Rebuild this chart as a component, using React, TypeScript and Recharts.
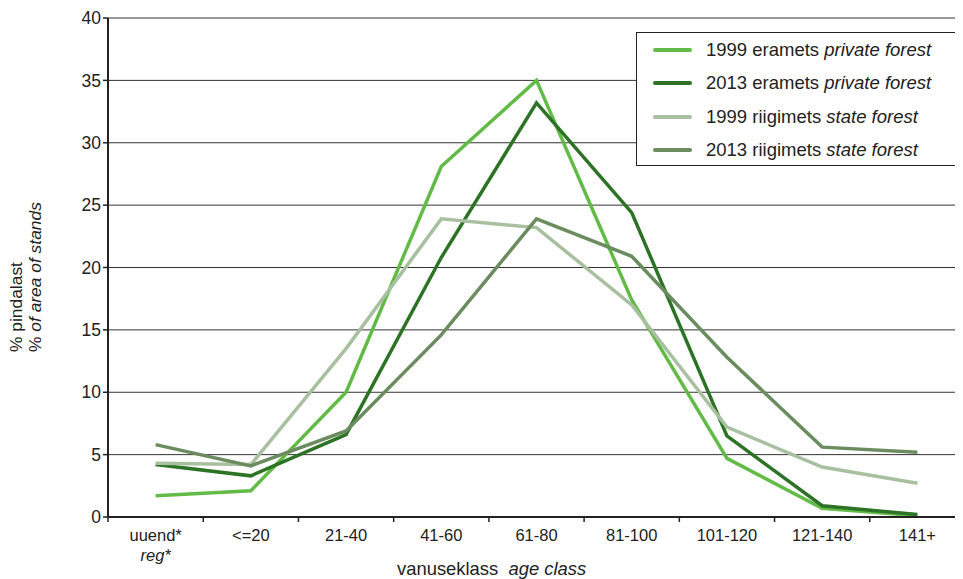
import { CartesianGrid, Line, LineChart, XAxis, YAxis } from "recharts";

const ageClasses = ["uuend*|reg*", "<=20", "21-40", "41-60", "61-80", "81-100", "101-120", "121-140", "141+"];
const private1999 = [1.7, 2.1, 10.0, 28.1, 35.0, 17.4, 4.7, 0.7, 0.1];
const private2013 = [4.2, 3.3, 6.6, 20.8, 33.2, 24.4, 6.5, 0.9, 0.2];
const state1999 = [4.3, 4.2, 13.5, 23.9, 23.2, 17.0, 7.2, 4.0, 2.7];
const state2013 = [5.8, 4.1, 6.9, 14.6, 23.9, 20.9, 12.8, 5.6, 5.2];
const yTicks = [0, 5, 10, 15, 20, 25, 30, 35, 40];

const seriesInfo = [
  { key: "p1999", year: "1999 eramets", en: "private forest", color: "#62bb46" },
  { key: "p2013", year: "2013 eramets", en: "private forest", color: "#2d7326" },
  { key: "s1999", year: "1999 riigimets", en: "state forest", color: "#a9c0a0" },
  { key: "s2013", year: "2013 riigimets", en: "state forest", color: "#6b8c5f" },
];

const data = ageClasses.map((c, i) => ({
  cls: c,
  p1999: private1999[i],
  p2013: private2013[i],
  s1999: state1999[i],
  s2013: state2013[i],
}));

const FONT = "'Liberation Sans', Arial, sans-serif";
const INK = "#222";
// plot runs from x=100 to x=957 inside the chart
const BAND = 857 / ageClasses.length;

function AgeTick(props: any) {
  const { x, y, payload } = props;
  const [main, sub] = String(payload.value).split("|");
  return (
    <g>
      <line x1={x - BAND / 2} y1={y - 8} x2={x - BAND / 2} y2={y - 3} stroke={INK} strokeWidth={1.5} />
      <text x={x} y={y + 16} textAnchor="middle" fontSize={16.5} fill={INK} fontFamily={FONT}>
        {main}
      </text>
      {sub && (
        <text x={x} y={y + 36} textAnchor="middle" fontSize={16.5} fill={INK} fontFamily={FONT} fontStyle="italic">
          {sub}
        </text>
      )}
    </g>
  );
}

function LegendBox() {
  return (
    <div
      style={{
        position: "absolute",
        left: 628,
        top: 24,
        width: 322,
        height: 134,
        border: "1.5px solid #222",
        background: "#fff",
        boxSizing: "border-box",
        paddingTop: 0,
        fontFamily: FONT,
        fontSize: 18.5,
        color: INK,
      }}
    >
      {seriesInfo.map((s) => (
        <div key={s.key} style={{ display: "flex", alignItems: "center", height: 33.5, whiteSpace: "nowrap" }}>
          <div style={{ width: 39, height: 4, borderRadius: 2, background: s.color, marginLeft: 16, marginRight: 14 }} />
          <span>
            {s.year} <i>{s.en}</i>
          </span>
        </div>
      ))}
    </div>
  );
}

export default function App() {
  return (
    <div style={{ position: "relative", width: 955, height: 571, fontFamily: FONT, color: INK }}>
      <LineChart width={960} height={571} data={data} margin={{ top: 10, right: 3, bottom: 0, left: 40 }}>
        <CartesianGrid horizontal vertical={false} stroke="#333" strokeWidth={1} />
        <XAxis
          dataKey="cls"
          scale="band"
          height={62}
          interval={0}
          tickLine={false}
          axisLine={{ stroke: INK, strokeWidth: 2 }}
          tick={<AgeTick />}
        />
        <YAxis
          width={60}
          domain={[0, 40]}
          ticks={yTicks}
          interval={0}
          tickSize={5}
          tick={{ fill: INK, fontSize: 17.5, fontFamily: FONT }}
          tickLine={{ stroke: INK, strokeWidth: 1.5 }}
          axisLine={{ stroke: INK, strokeWidth: 2 }}
        />
        {seriesInfo.map((s) => (
          <Line
            key={s.key}
            type="linear"
            dataKey={s.key}
            stroke={s.color}
            strokeWidth={3.5}
            dot={false}
            activeDot={false}
            isAnimationActive={false}
          />
        ))}
      </LineChart>
      <LegendBox />
      <div style={{ position: "absolute", left: 389, top: 550, fontSize: 18.4, lineHeight: "21px", whiteSpace: "nowrap" }}>
        vanuseklass{"\u00a0\u00a0"}<i>age class</i>
      </div>
      <div
        style={{
          position: "absolute",
          left: -1.5,
          top: 344,
          fontSize: 17.4,
          lineHeight: "19px",
          whiteSpace: "nowrap",
          transform: "rotate(-90deg)",
          transformOrigin: "left top",
        }}
      >
        <div>% pindalast</div>
        <div>
          % <i>of area of stands</i>
        </div>
      </div>
    </div>
  );
}
